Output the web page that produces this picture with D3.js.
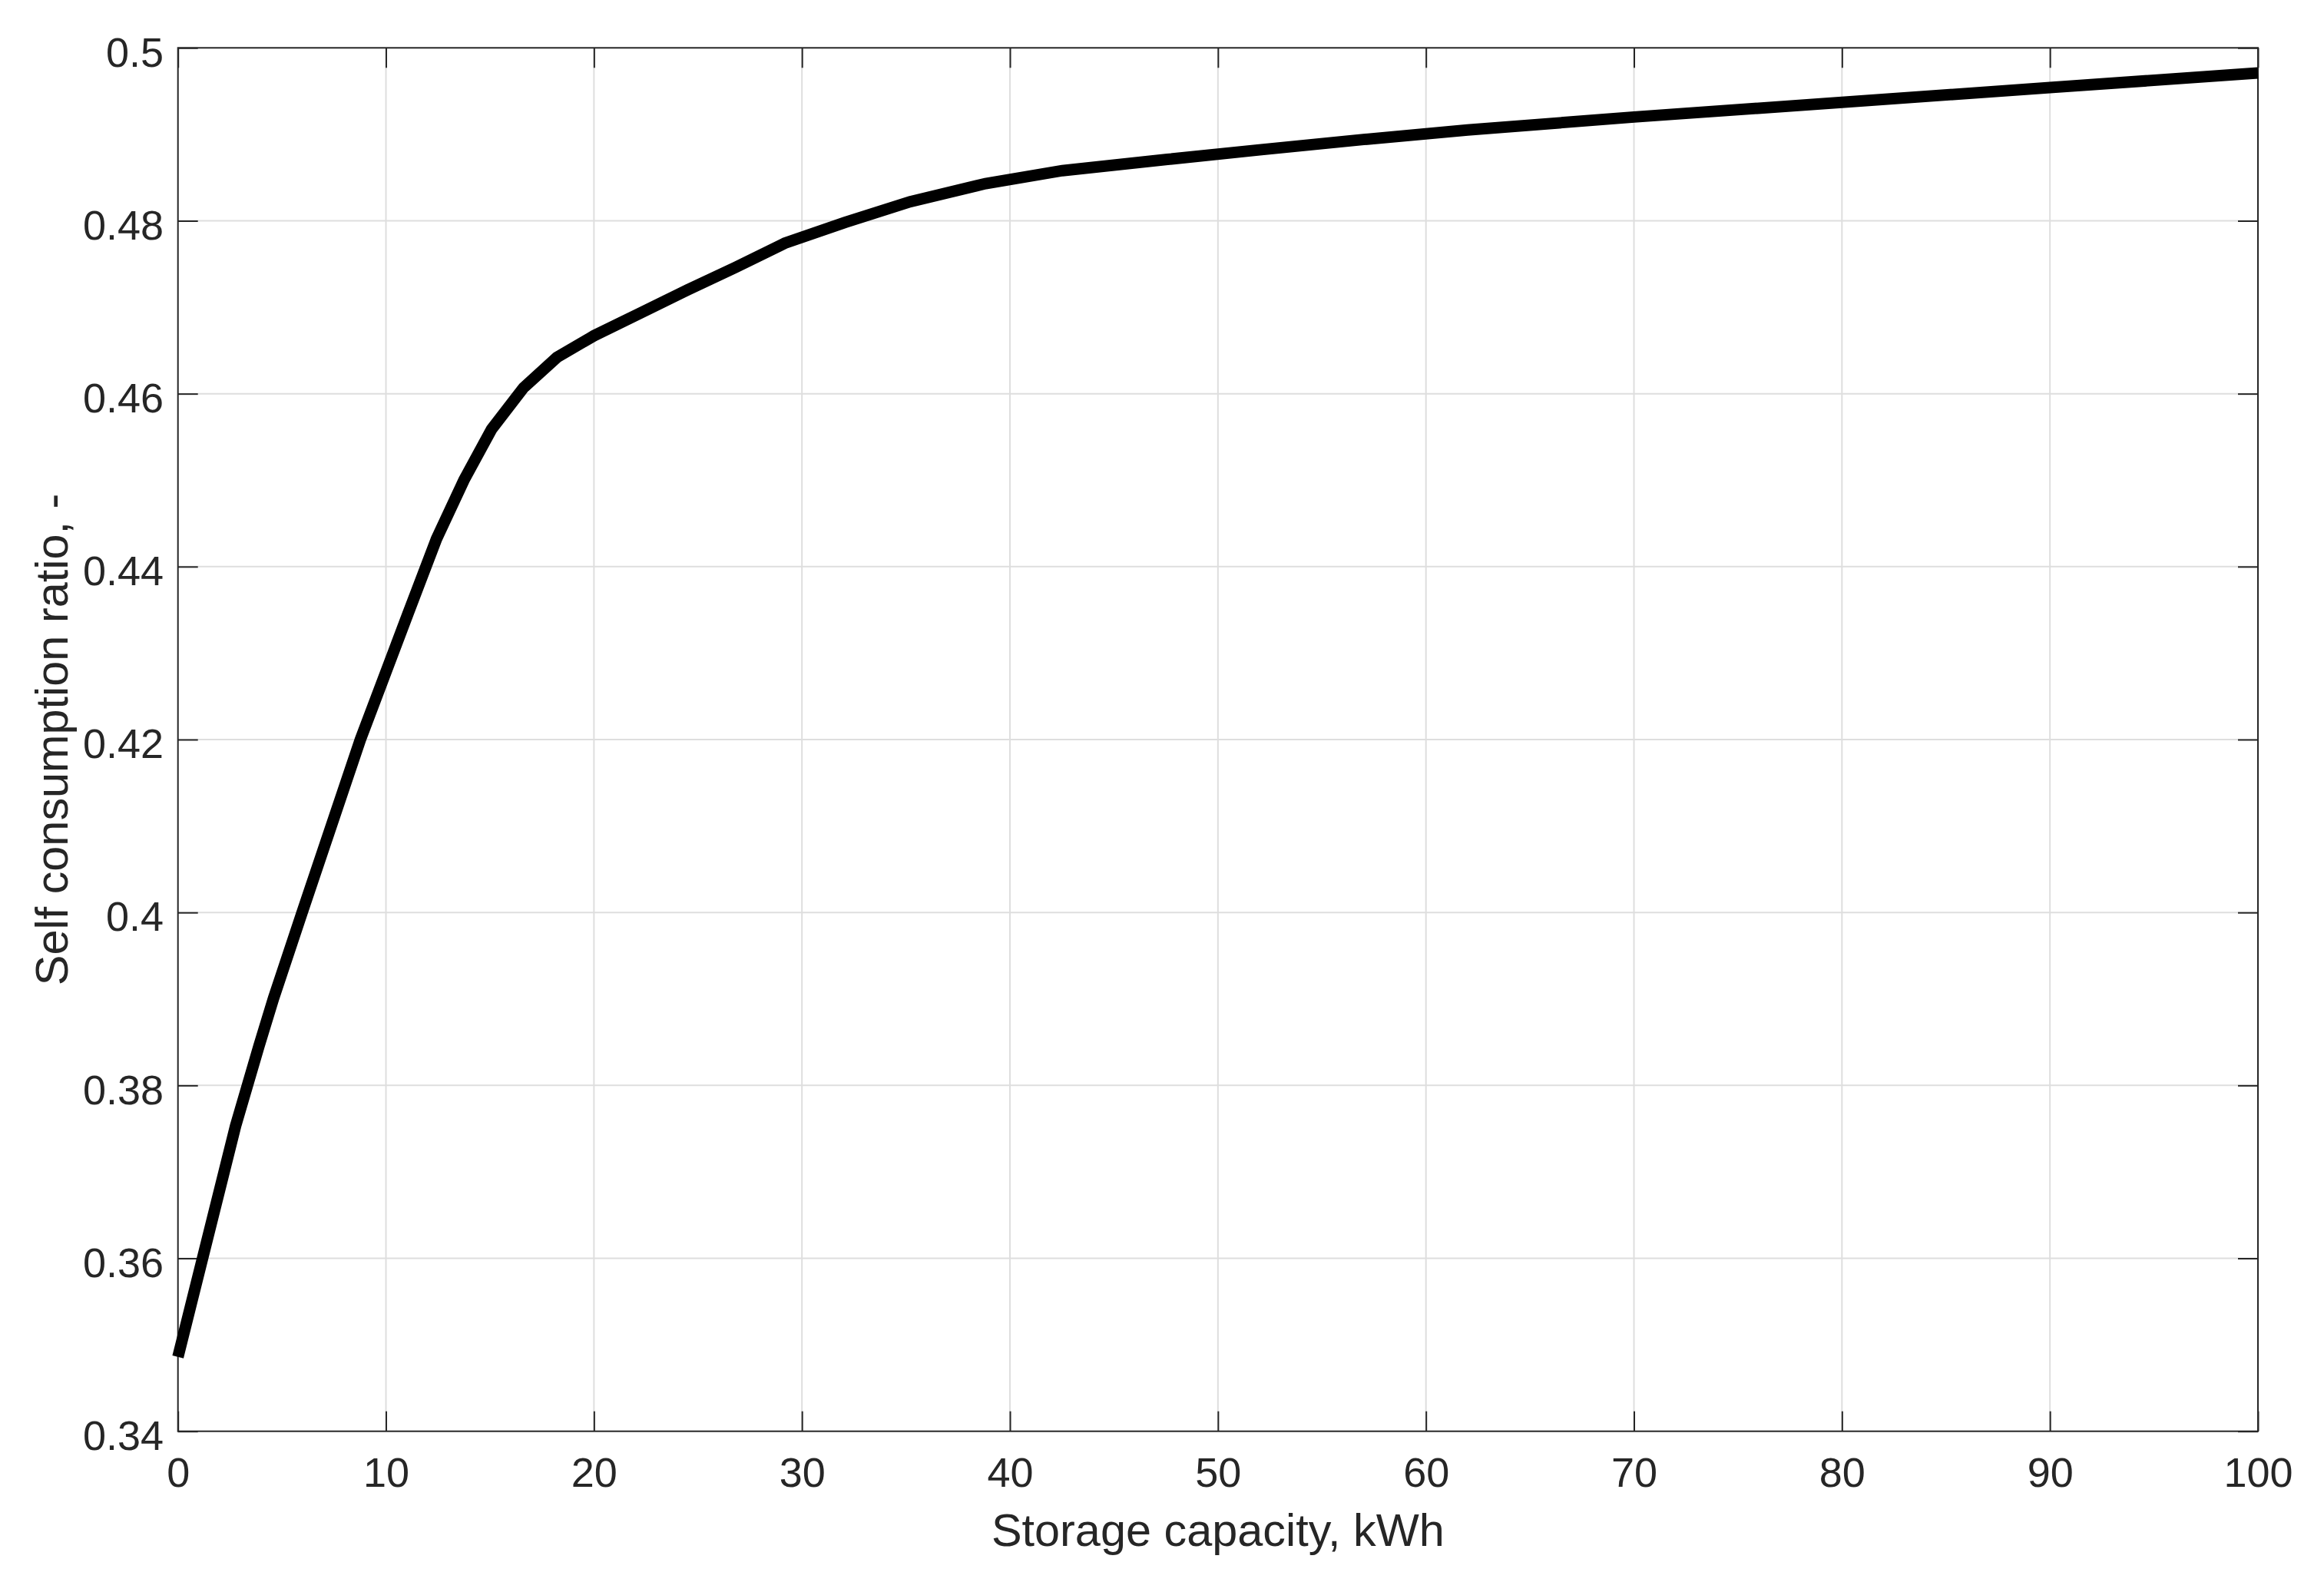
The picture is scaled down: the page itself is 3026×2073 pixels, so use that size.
<!DOCTYPE html>
<html>
<head>
<meta charset="utf-8">
<script src="https://cdn.jsdelivr.net/npm/d3@7"></script>
<style>
  html, body { margin: 0; padding: 0; background: #fff; }
  svg { display: block; }
  text { font-family: "Liberation Sans", Arial, Helvetica, sans-serif; fill: #262626; }
</style>
</head>
<body>
<svg id="chart" width="3026" height="2073"></svg>
<script>
// ---- data ----
const capacity = [0, 2.77, 3.9, 4.6, 5.97, 8.77, 11.05, 12.43, 13.75, 15.08, 16.62, 18.22, 20.0,
                  22.3, 24.5, 26.8, 29.17, 32.07, 35.2, 38.83, 42.52, 47.57, 52, 57, 62, 70, 80, 90, 100];
const selfConsumption = [0.3486, 0.3753, 0.3846, 0.3901, 0.4000, 0.4200, 0.4345, 0.4432, 0.4500, 0.4559,
                  0.4607, 0.4642, 0.4667, 0.4694, 0.4720, 0.4746, 0.4774, 0.4798, 0.4822, 0.4843,
                  0.4858, 0.4871, 0.4882, 0.4894, 0.4905, 0.4920, 0.4937, 0.4954, 0.4971];
const xTicks = [0, 10, 20, 30, 40, 50, 60, 70, 80, 90, 100];
const yTicks = [0.34, 0.36, 0.38, 0.40, 0.42, 0.44, 0.46, 0.48, 0.50];
const xLabel = "Storage capacity, kWh";
const yLabel = "Self consumption ratio, -";

(function () {
// ---- layout ----
const mLeft = 231.7, mRight = 2940, mTop = 62.3, mBottom = 1863.7;
const axisColor = "#262626";
const tickLen = 26;

const svg = d3.select("#chart");
const x = d3.scaleLinear().domain([0, 100]).range([mLeft, mRight]);
const y = d3.scaleLinear().domain([0.34, 0.5]).range([mBottom, mTop]);

// grid
const grid = svg.append("g").attr("stroke", "#dedede").attr("stroke-width", 2);
grid.selectAll("line.v").data(xTicks.slice(1, -1)).enter().append("line").attr("class", "v")
  .attr("x1", d => x(d)).attr("x2", d => x(d)).attr("y1", mTop).attr("y2", mBottom);
grid.selectAll("line.h").data(yTicks.slice(1, -1)).enter().append("line").attr("class", "h")
  .attr("y1", d => y(d)).attr("y2", d => y(d)).attr("x1", mLeft).attr("x2", mRight);

// axes
const yFmt = d => String(+d.toFixed(2));
function styleAxis(g) {
  g.select(".domain").remove();
  g.selectAll(".tick line").attr("stroke", axisColor).attr("stroke-width", 2);
  g.selectAll(".tick text").attr("fill", axisColor).style("font-size", "54px")
    .style("font-family", '"Liberation Sans", Arial, Helvetica, sans-serif');
}
svg.append("g").attr("transform", `translate(0,${mBottom})`)
  .call(d3.axisBottom(x).tickValues(xTicks).tickSizeInner(-tickLen).tickSizeOuter(0).tickPadding(34))
  .call(styleAxis);
svg.append("g").attr("transform", `translate(0,${mTop})`)
  .call(d3.axisTop(x).tickValues(xTicks).tickSizeInner(-tickLen).tickSizeOuter(0).tickFormat(""))
  .call(styleAxis);
const yAxisG = svg.append("g").attr("transform", `translate(${mLeft},0)`)
  .call(d3.axisLeft(y).tickValues(yTicks).tickFormat(yFmt).tickSizeInner(-tickLen).tickSizeOuter(0).tickPadding(18.7))
  .call(styleAxis);
yAxisG.selectAll(".tick text").attr("dy", "0.44em");
svg.append("g").attr("transform", `translate(${mRight},0)`)
  .call(d3.axisRight(y).tickValues(yTicks).tickSizeInner(-tickLen).tickSizeOuter(0).tickFormat(""))
  .call(styleAxis);

// box
svg.append("rect").attr("x", mLeft).attr("y", mTop)
  .attr("width", mRight - mLeft).attr("height", mBottom - mTop)
  .attr("fill", "none").attr("stroke", axisColor).attr("stroke-width", 2);

// data line
const line = d3.line().x((d, i) => x(capacity[i])).y(d => y(d));
svg.append("path").datum(selfConsumption)
  .attr("d", line)
  .attr("fill", "none").attr("stroke", "#000").attr("stroke-width", 15)
  .attr("stroke-linejoin", "miter").attr("stroke-linecap", "butt");

// axis labels
svg.append("text").attr("x", (mLeft + mRight) / 2).attr("y", 2013)
  .attr("text-anchor", "middle").style("font-size", "59.4px").text(xLabel);
svg.append("text")
  .attr("transform", `translate(88,${(mTop + mBottom) / 2}) rotate(-90)`)
  .attr("text-anchor", "middle").style("font-size", "59.4px").text(yLabel);
})();
</script>
</body>
</html>
